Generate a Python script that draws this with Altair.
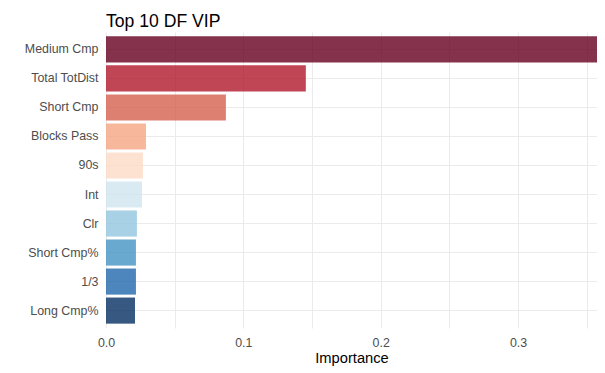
import altair as alt
import pandas as pd

names = ["Medium Cmp", "Total TotDist", "Short Cmp", "Blocks Pass", "90s",
         "Int", "Clr", "Short Cmp%", "1/3", "Long Cmp%"]
values = [0.3575, 0.1455, 0.0873, 0.0291, 0.0269, 0.0262, 0.0225, 0.0218, 0.0218, 0.0211]
colors = ["#67001F", "#B2182B", "#D6604D", "#F4A582", "#FDDBC7",
          "#D1E5F0", "#92C5DE", "#4393C3", "#2166AC", "#053061"]
grid_ticks = [0.0, 0.05, 0.1, 0.15, 0.2, 0.25, 0.3, 0.35]

df = pd.DataFrame({"Variable": names, "Importance": values})

FONT = "Liberation Sans"

chart = alt.Chart(df).mark_bar(opacity=0.8).encode(
    x=alt.X("Importance:Q",
            scale=alt.Scale(domain=[0, max(values)], nice=False, zero=True),
            axis=alt.Axis(values=grid_ticks,
                          labelExpr="round(datum.value*20) % 2 == 0 ? format(datum.value, '.1f') : ''",
                          title="Importance", labelPadding=8, titlePadding=2, labelFlush=False,
                          titleFontSize=14.7, titleColor="#000000", titleFontWeight="normal")),
    y=alt.Y("Variable:N", sort=names,
            scale=alt.Scale(paddingInner=0.1, paddingOuter=0.15),
            axis=alt.Axis(title=None, labelPadding=8, minExtent=98, maxExtent=98,
                          bandPosition=0.5)),
    color=alt.Color("Variable:N", scale=alt.Scale(domain=names, range=colors), legend=None),
).properties(
    width=491, height=296,
    title=alt.TitleParams("Top 10 DF VIP", anchor="start", frame="group", fontSize=17.6,
                          font=FONT, fontWeight="normal", color="#000000", offset=1),
    padding={"left": 0, "top": 5, "right": 0, "bottom": 0},
).configure_view(stroke=None).configure_axis(
    domain=False, ticks=False, grid=True, gridColor="#EBEBEB", gridWidth=1,
    labelColor="#4D4D4D", labelFontSize=12.4, labelFont=FONT, titleFont=FONT,
)

chart.save("out.html", embed_options={"renderer": "svg", "actions": False})
